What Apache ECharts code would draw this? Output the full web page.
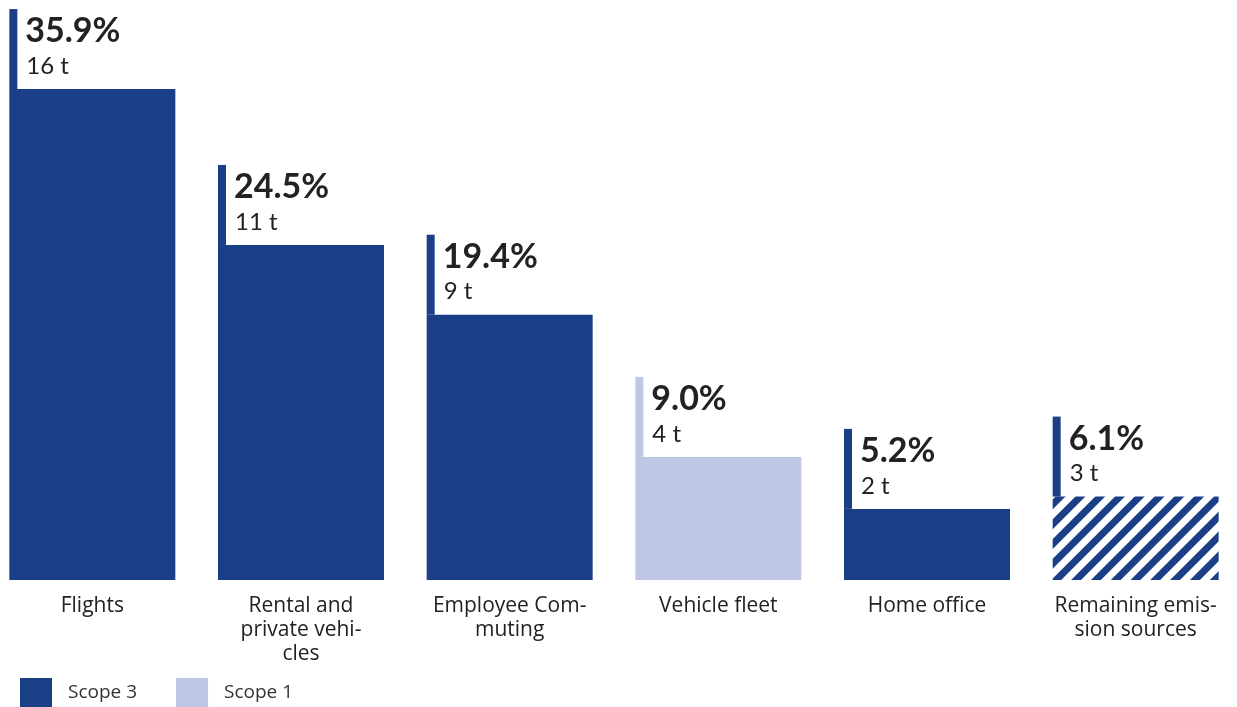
<!DOCTYPE html>
<html>
<head>
<meta charset="utf-8">
<script src="https://cdn.jsdelivr.net/npm/echarts@6/dist/echarts.min.js"></script>
<style>
html,body{margin:0;padding:0;background:#fff;overflow:hidden;width:1237px;height:707px;position:relative;}
#c{position:absolute;left:-12px;top:0;width:1252px;height:707px;}
</style>
</head>
<body>
<div id="c"></div>
<script>
const categories = ['Flights', 'Rental and\nprivate vehi-\ncles', 'Employee Com-\nmuting', 'Vehicle fleet', 'Home office', 'Remaining emis-\nsion sources'];
const shares = [35.9, 24.5, 19.4, 9.0, 5.2, 6.1];
const tonnes = [16, 11, 9, 4, 2, 3];
const scopes = ['Scope 3', 'Scope 3', 'Scope 3', 'Scope 1', 'Scope 3', 'Other'];

const DARK = '#1b3f87';
const LIGHT = '#bec8e6';
const colorOf = s => s === 'Scope 1' ? LIGHT : DARK;

const scope3 = shares.map((v, i) => scopes[i] === 'Scope 3' ? v : '-');
const scope1 = shares.map((v, i) => scopes[i] === 'Scope 1' ? v : '-');
const other = shares.map((v, i) => scopes[i] === 'Other' ? v : '-');
const labelData = shares.map((v, i) => [i, v, tonnes[i]]);

const chart = echarts.init(document.getElementById('c'), null, {renderer: 'canvas'});
const BW = 166;
chart.setOption({
  animation: false,
  textStyle: {fontFamily: 'Open Sans'},
  grid: {left: 0, right: 0, top: 33, bottom: 127, containLabel: false},
  xAxis: {
    type: 'category', data: categories,
    axisLine: {show: false}, axisTick: {show: false},
    axisLabel: {fontFamily: 'Open Sans', fontSize: 21, lineHeight: 24, color: '#222', margin: 14, interval: 0}
  },
  yAxis: {type: 'value', min: 0, max: 40, show: false, splitLine: {show: false}},
  legend: {
    data: ['Scope 3', 'Scope 1'],
    left: 27, top: 673, icon: 'rect', itemWidth: 32, itemHeight: 30, itemGap: 39,
    textStyle: {fontFamily: 'Open Sans', fontSize: 19, color: '#333', padding: [0, 0, 0, 11]}
  },
  series: [
    {name: 'Scope 3', type: 'bar', data: scope3, barWidth: BW, barGap: '-100%', itemStyle: {color: DARK}},
    {name: 'Scope 1', type: 'bar', data: scope1, barWidth: BW, barGap: '-100%', itemStyle: {color: LIGHT}},
    {name: 'Other', type: 'bar', data: other, barWidth: BW, barGap: '-100%',
      itemStyle: {color: '#ffffff', decal: {symbol: 'rect', color: DARK, dashArrayX: [1, 0], dashArrayY: [7, 7], rotation: -Math.PI / 4, symbolSize: 1}}},
    {
      name: 'labels', type: 'custom', data: labelData, z: 10,
      renderItem: function (params, api) {
        const idx = api.value(0);
        const val = api.value(1);
        const t = api.value(2);
        const top = api.coord([idx, val]);
        const left = top[0] - BW / 2;
        const col = colorOf(scopes[idx]);
        return {
          type: 'group',
          children: [
            {type: 'rect', shape: {x: left, y: top[1] - 80, width: 8, height: 80}, style: {fill: col}},
            {type: 'text', x: left + 16, y: top[1] - 75, style: {text: val.toFixed(1) + '%', font: 'bold 34px Lato', fill: '#222', verticalAlign: 'top'}},
            {type: 'text', x: left + 17, y: top[1] - 35, style: {text: t + ' t', font: '24px Lato', fill: '#222', verticalAlign: 'top'}}
          ]
        };
      }
    }
  ]
});
</script>
</body>
</html>
